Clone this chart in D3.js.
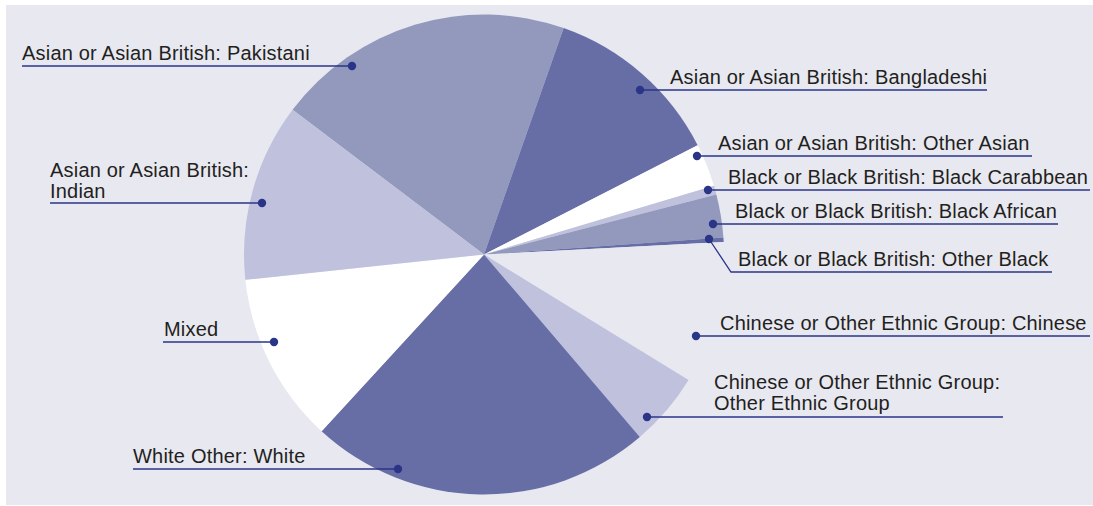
<!DOCTYPE html>
<html>
<head>
<meta charset="utf-8">
<script src="https://cdn.jsdelivr.net/npm/d3@7"></script>
<style>
  html, body { margin: 0; padding: 0; background: #ffffff; }
  svg { display: block; }
  text { font-family: "Liberation Sans", Arial, Helvetica, sans-serif; }
</style>
</head>
<body>
<svg id="chart" width="1093" height="506"></svg>
<script>
// ---- data (percent share) ----
const categories = [
  "Asian or Asian British: Pakistani",
  "Asian or Asian British: Bangladeshi",
  "Asian or Asian British: Other Asian",
  "Black or Black British: Black Carabbean",
  "Black or Black British: Black African",
  "Black or Black British: Other Black",
  "Chinese or Other Ethnic Group: Chinese",
  "Chinese or Other Ethnic Group: Other Ethnic Group",
  "White Other: White",
  "Mixed",
  "Asian or Asian British: Indian"
];
const values = [20.1, 12.1, 2.9, 0.6, 2.9, 0.3, 9.6, 5.0, 23.1, 11.5, 12.0];
const labelLines = [
  ["Asian or Asian British: Pakistani"],
  ["Asian or Asian British: Bangladeshi"],
  ["Asian or Asian British: Other Asian"],
  ["Black or Black British: Black Carabbean"],
  ["Black or Black British: Black African"],
  ["Black or Black British: Other Black"],
  ["Chinese or Other Ethnic Group: Chinese"],
  ["Chinese or Other Ethnic Group:", "Other Ethnic Group"],
  ["White Other: White"],
  ["Mixed"],
  ["Asian or Asian British:", "Indian"]
];

// ---- styling / layout ----
const W = 1093, H = 506;
const bg = "#e8e8f1";
const fills = ["#9399bd", "#676ea6", "#ffffff", "#bfc1dd", "#9399bd", "#676ea6",
               bg, "#bfc1dd", "#676ea6", "#ffffff", "#bfc1dd"];
const cx = 484, cy = 254.5, R = 240;
const startDeg = 307.1;
const leaderColor = "#2b3588";
const textColor = "#231f20";
const fontSize = 20;
const letterSpacing = 0.2;
// label layout: dot position, elbow (optional), line end x, text x, first baseline
const layout = [
  {dot:[352,66],  lineTo:22,   tx:22,  ty:60},
  {dot:[640,90],  lineTo:987,  tx:670, ty:84},
  {dot:[697,156], lineTo:1032, tx:718, ty:150},
  {dot:[708,190], lineTo:1090, tx:728, ty:184},
  {dot:[713,224], lineTo:1058, tx:735, ty:218},
  {dot:[709,239], elbow:[731,272], lineTo:1052, tx:738, ty:266},
  {dot:[696,336], lineTo:1090, tx:720, ty:330},
  {dot:[647,417], lineTo:1003, tx:714, ty:389},
  {dot:[398,469], lineTo:133,  tx:133, ty:463},
  {dot:[274,342], lineTo:163,  tx:164, ty:336},
  {dot:[262,203], lineTo:50,   tx:50,  ty:177}
];
const lineGap = 21;

const svg = d3.select("#chart");
svg.append("rect").attr("x", 6).attr("y", 5).attr("width", W - 6).attr("height", H - 6)
  .attr("fill", bg);

const pie = d3.pie().sort(null).value(d => d)
  .startAngle(startDeg * Math.PI / 180)
  .endAngle(startDeg * Math.PI / 180 + 2 * Math.PI);
const arc = d3.arc().innerRadius(0).outerRadius(R);

const g = svg.append("g").attr("transform", `translate(${cx},${cy})`);
g.selectAll("path").data(pie(values)).join("path")
  .attr("d", arc)
  .attr("fill", (d, i) => fills[i]);

// labels
const lg = svg.append("g");
layout.forEach((L, i) => {
  const [dx, dy] = L.dot;
  if (L.elbow) {
    const [ex, ey] = L.elbow;
    lg.append("path")
      .attr("d", `M${dx},${dy}L${ex},${ey}L${L.lineTo},${ey}`)
      .attr("fill", "none").attr("stroke", leaderColor).attr("stroke-width", 1.3);
  } else {
    lg.append("line")
      .attr("x1", dx).attr("y1", dy).attr("x2", L.lineTo).attr("y2", dy)
      .attr("stroke", leaderColor).attr("stroke-width", 1.3);
  }
  lg.append("circle").attr("cx", dx).attr("cy", dy).attr("r", 4.2).attr("fill", leaderColor);
  const t = lg.append("text").attr("x", L.tx).attr("y", L.ty)
    .attr("fill", textColor).style("font-size", fontSize + "px")
    .style("letter-spacing", letterSpacing + "px");
  labelLines[i].forEach((s, k) => {
    t.append("tspan").attr("x", L.tx).attr("y", L.ty + k * lineGap).text(s);
  });
});
</script>
</body>
</html>
